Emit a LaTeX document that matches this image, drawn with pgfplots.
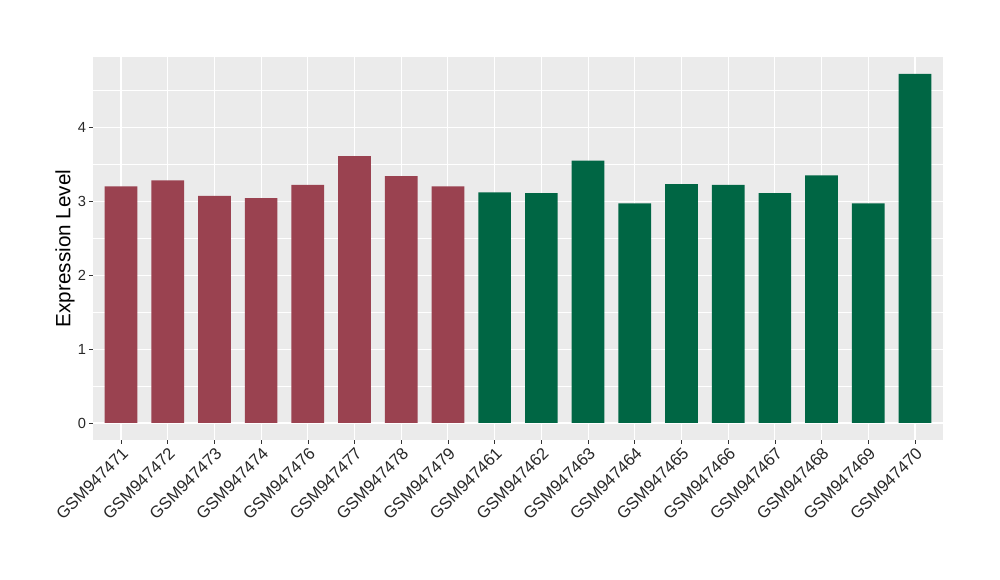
\documentclass[border=0pt]{standalone}
\usepackage{pgfplots}
\pgfplotsset{compat=1.18}
\usepackage{fontspec}
\setmainfont{Liberation Sans}
\definecolor{barred}{RGB}{154,66,80}
\definecolor{bargreen}{RGB}{0,102,68}
\definecolor{panelbg}{RGB}{235,235,235}
\definecolor{ticktxt}{RGB}{40,40,40}
\begin{document}
\begin{tikzpicture}
\useasboundingbox (0pt,0pt) rectangle (750pt,435pt);
\begin{axis}[
  at={(69.75pt,105pt)}, anchor=south west,
  scale only axis, width=637.5pt, height=287.25pt,
  xmin=-0.6, xmax=17.6, ymin=-0.23, ymax=4.95,
  axis background/.style={fill=panelbg},
  axis line style={draw=none},
  xtick={0,...,17},
  xticklabels={GSM947471,GSM947472,GSM947473,GSM947474,GSM947476,GSM947477,GSM947478,GSM947479,GSM947461,GSM947462,GSM947463,GSM947464,GSM947465,GSM947466,GSM947467,GSM947468,GSM947469,GSM947470},
  ytick={0,1,2,3,4},
  minor ytick={0.5,1.5,2.5,3.5,4.5},
  xmajorgrids, ymajorgrids, yminorgrids,
  major grid style={white, line width=0.8pt},
  minor grid style={white, line width=0.4pt},
  tick align=outside, major tick length=3pt, minor tick length=0pt,
  tick style={color=black!80, line width=0.5pt},
  xtick pos=bottom, ytick pos=left,
  /pgf/number format/assume math mode=true,
  yticklabel style={font=\fontsize{11}{12}\selectfont, text=ticktxt, inner sep=2pt},
  xticklabel style={font=\fontsize{12.5}{14}\selectfont, text=ticktxt, rotate=45, anchor=north east, inner sep=1pt},
  ylabel={Expression Level},
  ylabel style={font=\fontsize{15.5}{17}\selectfont, at={(axis description cs:-0.033,0.5)}, anchor=center, rotate=0},
  every axis plot/.append style={ybar, bar width=0.7, bar shift=0pt, draw=none},
  clip=false,
]
\addplot[fill=barred] coordinates {
(0,3.20) (1,3.28) (2,3.07) (3,3.04) (4,3.22) (5,3.61) (6,3.34) (7,3.20)
};
\addplot[fill=bargreen] coordinates {
(8,3.12) (9,3.11) (10,3.55) (11,2.97) (12,3.23) (13,3.22) (14,3.11) (15,3.35) (16,2.97) (17,4.72)
};
\end{axis}
\end{tikzpicture}
\end{document}
